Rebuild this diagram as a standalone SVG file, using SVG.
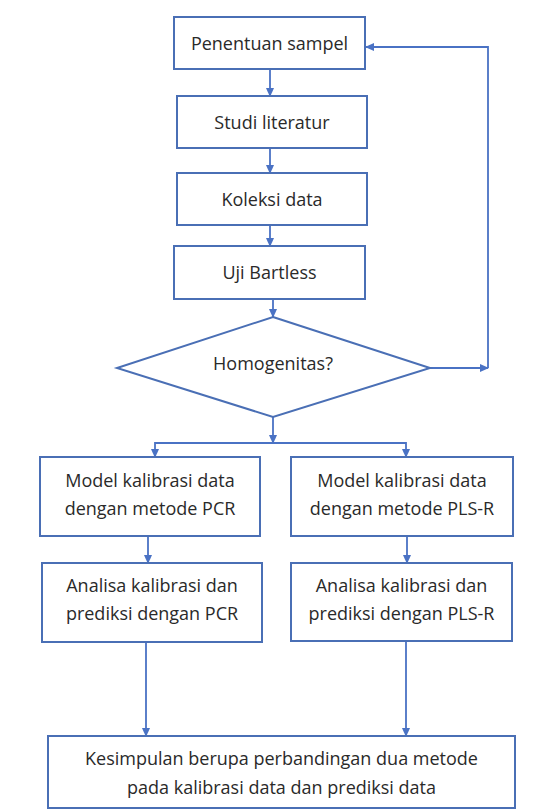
<svg xmlns="http://www.w3.org/2000/svg" width="537" height="812" viewBox="0 0 537 812">
<style>
.box{fill:#fff;stroke:#4a6fb5;stroke-width:2}
.t{font-family:"Open Sans","Liberation Sans",sans-serif;font-size:18px;fill:#2a2a2a;text-anchor:middle;dominant-baseline:central}
.c{fill:none;stroke:#4a72c4;stroke-width:1.8}
</style>
<defs>
<marker id="a" markerWidth="10" markerHeight="10" refX="8" refY="5" orient="auto" markerUnits="userSpaceOnUse">
<path d="M0,1 L9,5 L0,9 Z" fill="#4a72c4"/>
</marker>
</defs>
<rect width="537" height="812" fill="#fff"/>
<g id="connectors">
<path class="c" d="M270,69 V96" marker-end="url(#a)"/>
<path class="c" d="M270,148 V173" marker-end="url(#a)"/>
<path class="c" d="M270,225 V246" marker-end="url(#a)"/>
<path class="c" d="M273,299 V317" marker-end="url(#a)"/>
<path class="c" d="M430,368 H488" marker-end="url(#a)"/>
<path class="c" d="M488,368 V47 H366" marker-end="url(#a)"/>
<path class="c" d="M273,417 V443" marker-end="url(#a)"/>
<path class="c" d="M273,443 H155 V457" marker-end="url(#a)"/>
<path class="c" d="M273,443 H406 V457" marker-end="url(#a)"/>
<path class="c" d="M148,536 V563" marker-end="url(#a)"/>
<path class="c" d="M407,536 V563" marker-end="url(#a)"/>
<path class="c" d="M146,642 V736" marker-end="url(#a)"/>
<path class="c" d="M406,641 V736" marker-end="url(#a)"/>
</g>
<g id="n1"><rect class="box" x="174" y="17" width="191" height="52"/><text class="t" x="269.5" y="43">Penentuan sampel</text></g>
<g id="n2"><rect class="box" x="177" y="96" width="190" height="52"/><text class="t" x="272" y="122">Studi literatur</text></g>
<g id="n3"><rect class="box" x="177" y="173" width="190" height="52"/><text class="t" x="272" y="199">Koleksi data</text></g>
<g id="n4"><rect class="box" x="174" y="246" width="191" height="53"/><text class="t" x="269.5" y="272">Uji Bartless</text></g>
<g id="n5"><polygon class="box" points="273,317 430,368 273,417 117,368"/><text class="t" x="273" y="363">Homogenitas?</text></g>
<g id="n6"><rect class="box" x="40" y="457" width="220" height="79"/><text class="t" x="150" y="480">Model kalibrasi data</text><text class="t" x="150" y="508">dengan metode PCR</text></g>
<g id="n7"><rect class="box" x="291" y="457" width="222" height="79"/><text class="t" x="402" y="480">Model kalibrasi data</text><text class="t" x="402" y="508">dengan metode PLS-R</text></g>
<g id="n8"><rect class="box" x="42" y="563" width="220" height="79"/><text class="t" x="152" y="585">Analisa kalibrasi dan</text><text class="t" x="152" y="613">prediksi dengan PCR</text></g>
<g id="n9"><rect class="box" x="291" y="563" width="221" height="78"/><text class="t" x="401.5" y="585">Analisa kalibrasi dan</text><text class="t" x="401.5" y="613">prediksi dengan PLS-R</text></g>
<g id="n10"><rect class="box" x="48" y="736" width="467" height="72"/><text class="t" x="281.5" y="758">Kesimpulan berupa perbandingan dua metode</text><text class="t" x="281.5" y="787">pada kalibrasi data dan prediksi data</text></g>
</svg>
